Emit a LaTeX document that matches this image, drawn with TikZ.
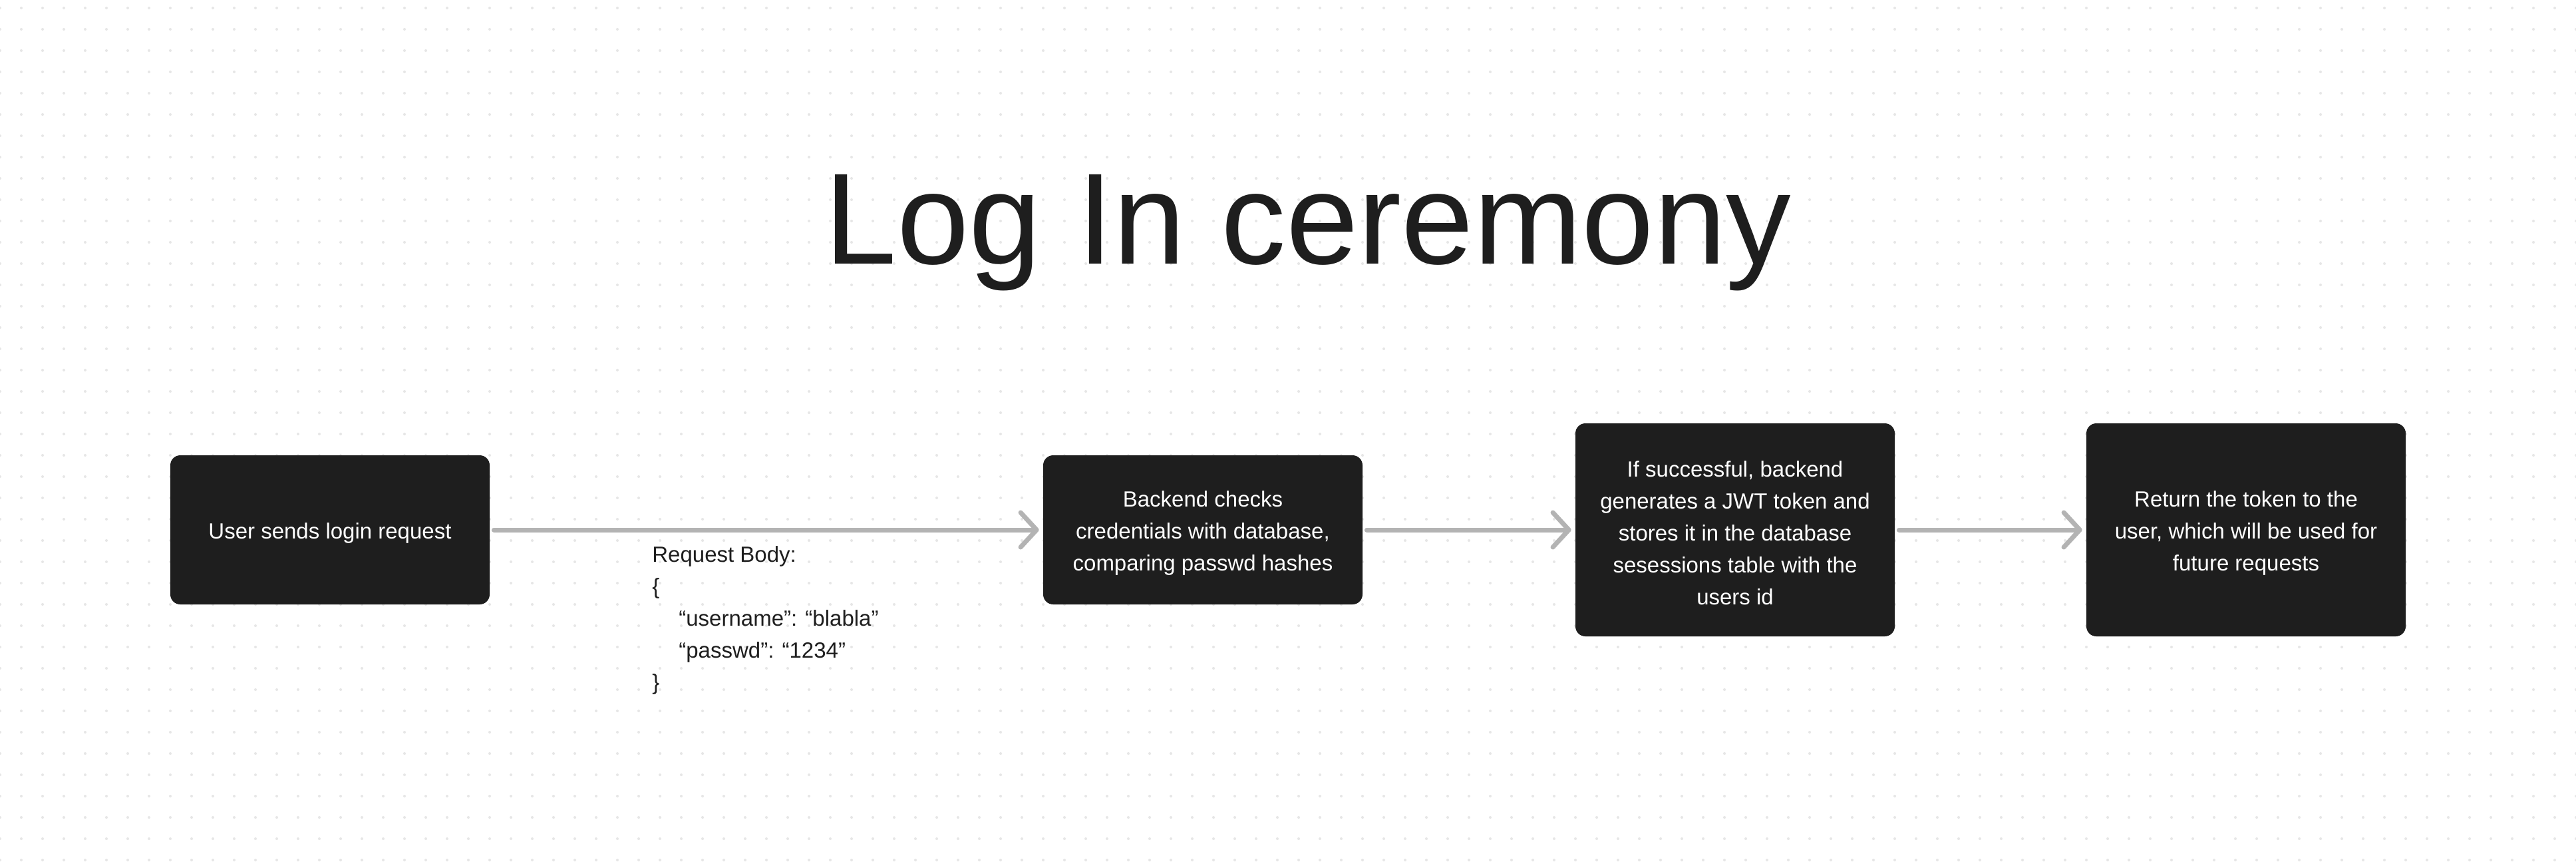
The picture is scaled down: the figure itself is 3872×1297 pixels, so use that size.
\documentclass[tikz,border=0pt]{standalone}
\usepackage{fontspec}
\setmainfont{Liberation Sans}
\usetikzlibrary{arrows.meta}
\usetikzlibrary{calc}
\usepackage{color}
\definecolor{boxblack}{HTML}{1E1E1E}
\definecolor{arrowgray}{HTML}{B3B3B3}
\definecolor{dotgray}{HTML}{E6E6E6}
\newcommand{\firstline}{\rule{0pt}{17pt}}

\begin{document}
\begin{tikzpicture}[x=0.5pt,y=-0.5pt]
    \tikzstyle{flow box}=[fill=boxblack,rounded corners=7.5pt,text=white,align=center,inner sep=0pt,minimum width=240pt,font=\fontsize{16.5}{24}\selectfont]
    \tikzstyle{flow arrow}=[draw=arrowgray,line width=3.5pt,line cap=round,line join=round,-{Straight Barb[length=12pt,width=26pt,round]},shorten <=3pt,shorten >=3pt]
    \useasboundingbox (0,0) rectangle (3872,1297);
    \fill[white] (0,0) rectangle (3872,1297);
    \foreach \i in {0,...,121}
        \foreach \j in {0,...,40}
            \fill[dotgray] (32*\i,12+32*\j) circle (1pt);
    \node(0)[anchor=base,text=boxblack,font=\fontsize{97.5}{117}\selectfont] at (1966,396) {Log In ceremony};
    \node(1)[flow box,minimum height=112pt] at (496,796) {\firstline User sends login request};
    \node(2)[flow box,minimum height=112pt] at (1808,796) {\firstline Backend checks\\credentials with database,\\comparing passwd hashes};
    \node(3)[flow box,minimum height=160pt] at (2608,796) {\firstline If successful, backend\\generates a JWT token and\\stores it in the database\\sesessions table with the\\users id};
    \node(4)[flow box,minimum height=160pt] at (3376,796) {\firstline Return the token to the\\user, which will be used for\\future requests};
    \node(5)[anchor=north west,inner sep=0pt,align=left,text=boxblack,font=\fontsize{16.5}{24}\selectfont] at (980,820) {Request Body:\\\{\\\hspace*{20pt}“username”: “blabla”\\\hspace*{20pt}“passwd”: “1234”\\\}};
    \draw[flow arrow](1)--(2);
    \draw[flow arrow](2)--(3);
    \draw[flow arrow](3)--(4);
  \end{tikzpicture}
\end{document}
